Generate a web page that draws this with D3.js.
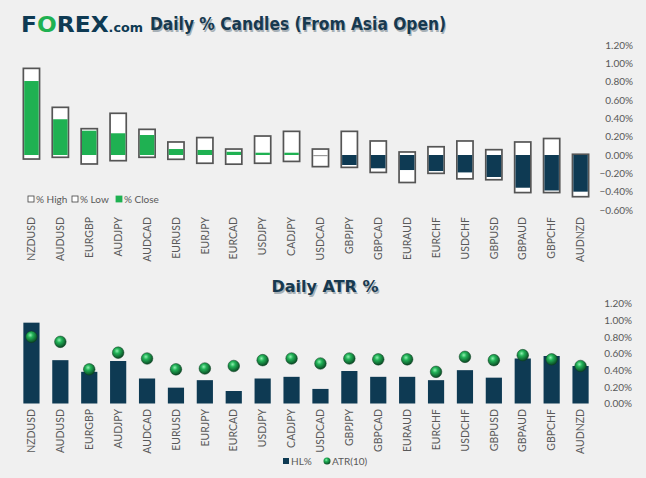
<!DOCTYPE html>
<html><head><meta charset="utf-8">
<script src="https://cdn.jsdelivr.net/npm/d3@7"></script>
<style>
html,body{margin:0;padding:0;background:#f0f0f0;}
svg{display:block;font-family:Lato,"Open Sans",sans-serif;}
</style></head>
<body>
<script>
const pairs = ["NZDUSD","AUDUSD","EURGBP","AUDJPY","AUDCAD","EURUSD","EURJPY","EURCAD","USDJPY","CADJPY","USDCAD","GBPJPY","GBPCAD","EURAUD","EURCHF","USDCHF","GBPUSD","GBPAUD","GBPCHF","AUDNZD"];
const highPct  = [0.945,0.52,0.287,0.455,0.28,0.142,0.19,0.065,0.207,0.258,0.065,0.258,0.153,0.033,0.09,0.153,0.058,0.142,0.18,0.008];
const lowPct   = [-0.044,-0.025,-0.098,-0.062,-0.025,-0.047,-0.09,-0.1,-0.09,-0.07,-0.127,-0.135,-0.19,-0.30,-0.20,-0.26,-0.27,-0.41,-0.41,-0.455];
const closePct = [0.807,0.39,0.265,0.237,0.218,0.065,0.055,0.035,0.025,0.025,-0.005,-0.109,-0.145,-0.164,-0.175,-0.19,-0.24,-0.357,-0.387,-0.40];
const hlPct    = [0.97,0.52,0.38,0.51,0.30,0.19,0.28,0.15,0.30,0.32,0.175,0.39,0.32,0.32,0.28,0.40,0.31,0.54,0.57,0.45];
const atr10    = [0.80,0.74,0.41,0.61,0.54,0.41,0.42,0.45,0.52,0.54,0.48,0.54,0.53,0.53,0.38,0.56,0.52,0.58,0.53,0.45];
const topTicks = [1.2,1.0,0.8,0.6,0.4,0.2,0,-0.2,-0.4,-0.6];
const botTicks = [1.2,1.0,0.8,0.6,0.4,0.2,0];

const W=646,H=478;
const NAVY="#0e3a53", GREEN="#1fb152", GRAY="#595959", EDGE="#555555";
const svg=d3.select("body").append("svg").attr("width",W).attr("height",H);
svg.append("rect").attr("width",W).attr("height",H).attr("fill","#f0f0f0");

const defs=svg.append("defs");
const rg=defs.append("radialGradient").attr("id","ball").attr("cx","40%").attr("cy","35%").attr("r","65%");
rg.append("stop").attr("offset","0%").attr("stop-color","#8ff0b0");
rg.append("stop").attr("offset","35%").attr("stop-color","#22b257");
rg.append("stop").attr("offset","100%").attr("stop-color","#0a4a24");

// Logo
const logo=svg.append("text").attr("x",21).attr("y",32)
  .style("font-family","'DejaVu Sans'").style("font-weight","bold").style("font-size","22px").attr("fill",NAVY);
logo.append("tspan").text("F");
logo.append("tspan").attr("fill",GREEN).text("O");
logo.append("tspan").text("REX");
logo.append("tspan").style("font-size","12px").text(".com");
logo.attr("textLength",122).attr("lengthAdjust","spacingAndGlyphs");

function title(txt,cx,y,width,size){
  const g=svg.append("g");
  const mk=(dx,dy,fill)=>g.append("text").attr("x",cx+dx).attr("y",y+dy).attr("text-anchor","middle")
     .style("font-family","'DejaVu Sans'").style("font-weight","bold").style("font-size",size+"px")
     .attr("textLength",width).attr("lengthAdjust","spacingAndGlyphs").attr("fill",fill).text(txt);
  mk(1.2,1.5,"#a7b0b6"); mk(0,0,"#17394f");
}
title("Daily % Candles (From Asia Open)",298,30,296,18);
title("Daily ATR %",325,292,107,16.5);

const x=d3.scaleBand().domain(pairs).range([17,595]).paddingInner(0.44).paddingOuter(0.22);
const bw=x.bandwidth();

function styleTicks(g,size){
  g.select(".domain").remove();
  g.selectAll("text").attr("fill",GRAY).style("font-size",size+"px").style("font-family","Lato");
}

// ---- Top chart ----
const yT=d3.scaleLinear().domain([-0.6,1.2]).range([210,45]);
const axT=d3.axisRight(yT).tickValues(topTicks).tickSize(0).tickFormat(d=>d3.format(".2f")(d)+"%");
const gAT=svg.append("g").attr("transform","translate(633,0)").call(axT);
styleTicks(gAT,10);
gAT.selectAll("text").attr("x",0).attr("text-anchor","end");

const cand=svg.append("g").selectAll("g").data(pairs).join("g");
cand.append("rect").attr("x",d=>x(d)).attr("width",bw)
  .attr("y",(d,i)=>yT(highPct[i])).attr("height",(d,i)=>yT(lowPct[i])-yT(highPct[i]))
  .attr("fill","#ffffff").attr("stroke",EDGE).attr("stroke-width",1.7);
cand.append("rect").attr("x",d=>x(d)+0.85).attr("width",bw-1.7)
  .attr("y",(d,i)=>Math.min(yT(0),yT(closePct[i])))
  .attr("height",(d,i)=>Math.max(1.2,Math.abs(yT(closePct[i])-yT(0))))
  .attr("fill",(d,i)=>closePct[i]>0?GREEN:(closePct[i]<-0.01?NAVY:"#9a9a9a"));

// top legend
const lg=svg.append("g");
[["% High","#fff"],["% Low","#fff"],["% Close",GREEN]].forEach((e,i)=>{
  const xs=[28,72,116][i];
  lg.append("rect").attr("x",xs).attr("y",196).attr("width",6).attr("height",6).attr("fill",e[1]).attr("stroke",i<2?"#404040":GREEN).attr("stroke-width",0.8);
  lg.append("text").attr("x",xs+8).attr("y",203).attr("fill",GRAY).style("font-size","10px").text(e[0]);
});

// top category labels
const cT=svg.append("g").attr("transform","translate(0,217)").call(d3.axisBottom(x).tickSize(0));
styleTicks(cT,10.5);
cT.selectAll("text").attr("transform","rotate(-90)").attr("x",0).attr("y",0).attr("dy","0.35em").attr("text-anchor","end");

// ---- Bottom chart ----
const yB=d3.scaleLinear().domain([0,1.2]).range([403.5,303.5]);
const axB=d3.axisRight(yB).tickValues(botTicks).tickSize(0).tickFormat(d=>d3.format(".2f")(d)+"%");
const gAB=svg.append("g").attr("transform","translate(632,0)").call(axB);
styleTicks(gAB,10);
gAB.selectAll("text").attr("x",0).attr("text-anchor","end");

svg.append("g").selectAll("rect").data(pairs).join("rect")
  .attr("x",d=>x(d)).attr("width",bw).attr("y",(d,i)=>yB(hlPct[i])).attr("height",(d,i)=>yB(0)-yB(hlPct[i]))
  .attr("fill",NAVY);
svg.append("g").selectAll("circle").data(pairs).join("circle")
  .attr("cx",d=>x(d)+bw/2).attr("cy",(d,i)=>yB(atr10[i])).attr("r",5.8)
  .attr("fill","url(#ball)").attr("stroke","#0c3d20").attr("stroke-width",0.5);

const cB=svg.append("g").attr("transform","translate(0,409)").call(d3.axisBottom(x).tickSize(0));
styleTicks(cB,10.5);
cB.selectAll("text").attr("transform","rotate(-90)").attr("x",0).attr("y",0).attr("dy","0.35em").attr("text-anchor","end");

// bottom legend
const lb=svg.append("g");
lb.append("rect").attr("x",283).attr("y",458).attr("width",6).attr("height",6).attr("fill",NAVY);
lb.append("text").attr("x",291).attr("y",465).attr("fill",GRAY).style("font-size","10px").text("HL%");
lb.append("circle").attr("cx",327).attr("cy",461).attr("r",3.5).attr("fill","url(#ball)");
lb.append("text").attr("x",332).attr("y",465).attr("fill",GRAY).style("font-size","10px").text("ATR(10)");
</script>
</body></html>
